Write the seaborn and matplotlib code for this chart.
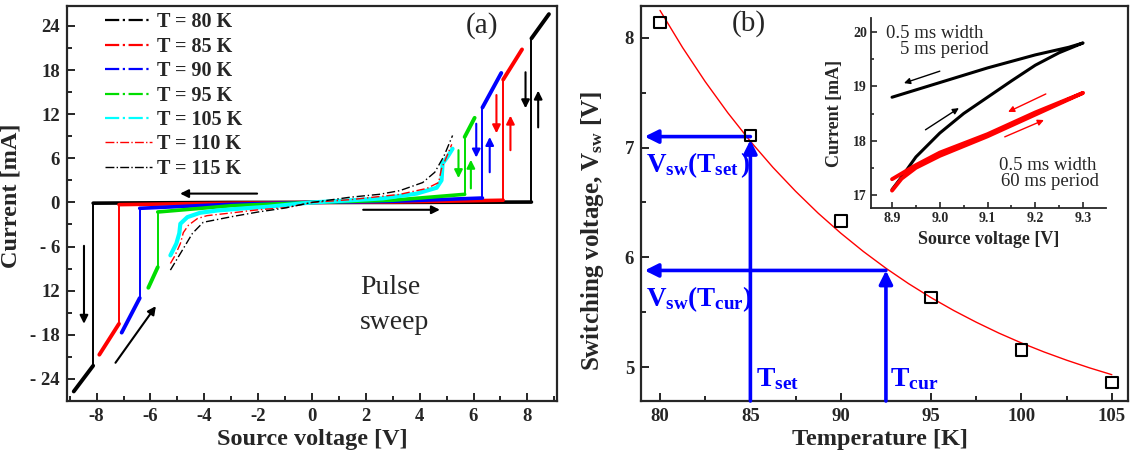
import numpy as np
import pandas as pd
import seaborn as sns
from matplotlib import pyplot as plt
from matplotlib.lines import Line2D
from matplotlib.ticker import MultipleLocator

sns.set_style('ticks')
plt.rcParams['font.family'] = ['Liberation Serif', 'DejaVu Serif']
plt.rcParams['mathtext.fontset'] = 'custom'
plt.rcParams['mathtext.rm'] = 'Liberation Serif'
plt.rcParams['mathtext.it'] = 'Liberation Serif:italic'
plt.rcParams['mathtext.bf'] = 'Liberation Serif:bold'

#####----- panel (a): pulse sweep I-V -----#####
temps_sw = ['T = 80 K', 'T = 85 K', 'T = 90 K', 'T = 95 K']
colors_sw = ['#000000', '#ff0000', '#0000ff', '#00dd00']
v_sw_pos = [8.15, 7.10, 6.33, 5.67]
i_low_pos = [0.05, 0.3, 0.6, 1.1]
i_top_pos = [22.3, 16.7, 12.9, 8.9]
v_end_pos = [8.8, 7.8, 7.03, 6.04]
i_end_pos = [25.6, 20.8, 17.6, 11.5]
v_sw_neg = [-8.13, -7.17, -6.4, -5.73]
i_low_neg = [-0.1, -0.3, -0.8, -1.3]
i_top_neg = [-22.2, -16.5, -13.0, -8.8]
v_end_neg = [-8.85, -7.9, -7.07, -6.08]
i_end_neg = [-25.7, -20.7, -17.7, -11.6]
i_at_m3 = [0.0, -0.1, -0.25, -0.45]
i_at_p3 = [0.0, 0.05, 0.15, 0.3]

v_105 = [-5.26, -5.04, -4.93, -4.89, -4.63, -4.15, -3.52, -2.5, -1.67, 0, 1.5, 2.63, 3.89, 4.63, 4.81, 4.85, 5.05, 5.22]
i_105 = [-7.2, -5.6, -4.2, -2.9, -2.0, -1.4, -1.1, -0.8, -0.6, 0, 0.3, 0.55, 1.2, 2.0, 3.0, 5.3, 6.3, 7.3]
v_110 = [-5.26, -5.1, -4.89, -4.78, -4.59, -4.26, -3.9, -2.93, -2.0, -0.93, 0, 1.5, 3.26, 4.26, 4.7, 4.81, 5.0, 5.19]
i_110 = [-8.3, -7.3, -5.6, -4.1, -3.1, -2.2, -1.8, -1.4, -1.0, -0.7, 0, 0.4, 1.1, 1.9, 2.7, 4.6, 6.2, 7.9]
v_115 = [-5.26, -4.85, -4.44, -4.04, -2.93, -2.0, -1.07, 0, 1.4, 2.5, 3.26, 4.11, 4.56, 4.9, 5.22]
i_115 = [-9.2, -6.7, -4.2, -2.7, -1.9, -1.3, -0.8, 0, 0.7, 1.1, 1.6, 2.7, 4.1, 6.3, 9.1]

#####----- panel (b): switching voltage vs temperature -----#####
temp_pts = [80, 85, 90, 95, 100, 105]
vsw_pts = [8.14, 7.11, 6.33, 5.635, 5.155, 4.86]
temp_fit = [80, 81.25, 82.5, 83.75, 85, 86.25, 87.5, 88.75, 90, 91.25, 92.5,
            93.75, 95, 96.25, 97.5, 98.75, 100, 101.25, 102.5, 103.75, 105]
vsw_fit = [8.25, 7.911, 7.601, 7.317, 7.057, 6.819, 6.602, 6.402, 6.22, 6.053, 5.9,
           5.76, 5.632, 5.515, 5.408, 5.309, 5.219, 5.137, 5.062, 4.993, 4.93]
t_set, v_set = 85, 7.1
t_cur, v_cur = 92.5, 5.88

#####----- inset -----#####
v_5ms_up = [8.90, 8.92, 8.95, 9.0, 9.05, 9.1, 9.15, 9.2, 9.25, 9.3]
i_5ms_up = [17.1, 17.33, 17.7, 18.14, 18.5, 18.8, 19.1, 19.39, 19.62, 19.8]
v_5ms_dn = [9.3, 9.27, 9.2, 9.1, 9.0, 8.9]
i_5ms_dn = [19.8, 19.72, 19.58, 19.34, 19.07, 18.8]
v_60ms_up = [8.9, 8.92, 8.95, 9.0, 9.1, 9.2, 9.3]
i_60ms_up = [17.08, 17.3, 17.5, 17.72, 18.08, 18.48, 18.88]
v_60ms_dn = [9.3, 9.2, 9.1, 9.0, 8.95, 8.9]
i_60ms_dn = [18.88, 18.52, 18.12, 17.78, 17.55, 17.29]

fig = plt.figure(figsize=(11.34, 4.57), dpi=100)
ax1 = fig.add_axes([0.0591, 0.1225, 0.4321, 0.8643])
ax2 = fig.add_axes([0.5653, 0.1225, 0.4295, 0.8643])
ax3 = fig.add_axes([0.7681, 0.5449, 0.2072, 0.4158])

tick_font = dict(fontsize=13.5, fontweight='bold')
label_font = dict(fontsize=17.5, fontweight='bold')


def arrow(ax, x0, y0, x1, y1, color, lw=1.5, ms=12):
    ax.annotate('', xy=(x1, y1), xytext=(x0, y0),
                arrowprops=dict(arrowstyle='-|>', color=color, lw=lw,
                                mutation_scale=ms, shrinkA=0, shrinkB=0))


# --- panel (a)
for k in range(4):
    c = colors_sw[k]
    low = pd.DataFrame({'v': [v_sw_neg[k], -3, 0, 3, v_sw_pos[k]],
                        'i': [i_low_neg[k], i_at_m3[k], 0, i_at_p3[k], i_low_pos[k]]})
    sns.lineplot(data=low, x='v', y='i', ax=ax1, color=c, lw=2.6, sort=False, estimator=None)
    for vs, il, it, ve, ie in [(v_sw_pos[k], i_low_pos[k], i_top_pos[k], v_end_pos[k], i_end_pos[k]),
                               (v_sw_neg[k], i_low_neg[k], i_top_neg[k], v_end_neg[k], i_end_neg[k])]:
        sns.lineplot(x=[vs, vs], y=[il, it], ax=ax1, color=c, lw=1.4, sort=False, estimator=None)
        sns.lineplot(x=[vs, ve], y=[it, ie], ax=ax1, color=c, lw=2.8, sort=False, estimator=None)

sns.lineplot(x=v_105, y=i_105, ax=ax1, color='#00ffff', lw=3.0, sort=False, estimator=None)
l110 = sns.lineplot(x=v_110, y=i_110, ax=ax1, color='#ff0000', lw=1.0, sort=False, estimator=None).lines[-1]
l110.set_dashes([6, 2, 1, 2])
l115 = sns.lineplot(x=v_115, y=i_115, ax=ax1, color='#000000', lw=1.0, sort=False, estimator=None).lines[-1]
l115.set_dashes([6, 2, 1, 2])

# sweep direction arrows
arrow(ax1, -2.04, 1.2, -4.9, 1.2, 'k')
arrow(ax1, 1.9, -1.0, 4.75, -1.0, 'k')
arrow(ax1, -8.47, -5.9, -8.47, -16.5, 'k')
arrow(ax1, -7.3, -21.8, -5.8, -14.1, 'k')
arrow(ax1, 7.93, 17.7, 7.93, 12.8, 'k')
arrow(ax1, 8.4, 10.2, 8.4, 15.2, 'k')
arrow(ax1, 6.85, 14.6, 6.85, 9.4, '#ff0000')
arrow(ax1, 7.37, 7.1, 7.37, 11.8, '#ff0000')
arrow(ax1, 6.1, 10.7, 6.1, 6.1, '#0000ff')
arrow(ax1, 6.6, 4.1, 6.6, 8.9, '#0000ff')
arrow(ax1, 5.44, 7.1, 5.44, 3.3, '#00dd00')
arrow(ax1, 5.9, 1.9, 5.9, 5.8, '#00dd00')

leg_handles = [
    Line2D([], [], color='#000000', lw=1.6, ls='-.'),
    Line2D([], [], color='#ff0000', lw=1.6, ls='-.'),
    Line2D([], [], color='#0000ff', lw=1.6, ls='-.'),
    Line2D([], [], color='#00dd00', lw=1.6, ls='-.'),
    Line2D([], [], color='#00ffff', lw=1.6, ls='-.'),
    Line2D([], [], color='#ff0000', lw=1.0, ls='-.'),
    Line2D([], [], color='#000000', lw=1.0, ls='-.'),
]
leg_labels = temps_sw + ['T = 105 K', 'T = 110 K', 'T = 115 K']
ax1.legend(leg_handles, leg_labels, loc='upper left', bbox_to_anchor=(0.045, 1.025),
           frameon=False, handlelength=2.3, handletextpad=0.25, labelspacing=0.22,
           borderpad=0.3, prop=dict(family='Liberation Serif', weight='bold', size=14.5))

ax1.text(6.33, 24.0, '(a)', fontsize=21, ha='center', va='center')
ax1.text(1.78, -11.6, 'Pulse', fontsize=20, ha='left', va='center')
ax1.text(1.78, -16.3, 'sweep', fontsize=20, ha='left', va='center')

ax1.set_xlim(-9.1, 9.1)
ax1.set_ylim(-27.0, 26.7)
ax1.set_xticks([-8, -6, -4, -2, 0, 2, 4, 6, 8])
ax1.set_xticklabels(['-8', '-6', '-4', '-2', '0', '2', '4', '6', '8'], **tick_font)
ax1.set_yticks([24, 18, 12, 6, 0, -6, -12, -18, -24])
ax1.set_yticklabels(['24', '18', '12', '6', '0', '- 6', '12', '- 18', '- 24'], **tick_font)
ax1.xaxis.set_minor_locator(MultipleLocator(1))
ax1.yaxis.set_minor_locator(MultipleLocator(3))
ax1.set_xlabel('Source voltage [V]', **label_font)
ax1.set_ylabel('Current [mA]', **label_font)
ax1.xaxis.set_label_coords(0.5, -0.072)
ax1.yaxis.set_label_coords(-0.092, 0.52)

# --- panel (b)
sns.lineplot(x=temp_fit, y=vsw_fit, ax=ax2, color='#ff0000', lw=1.0, sort=False, estimator=None)
sns.scatterplot(x=temp_pts, y=vsw_pts, ax=ax2, marker='s', s=70, facecolor='none',
                edgecolor='k', linewidth=1.5, zorder=5)

ylo = 4.69
blue = '#0000ff'
arrow(ax2, t_set, v_set, 79.15, v_set, blue, lw=2.6, ms=20)
arrow(ax2, t_set, ylo, t_set, v_set - 0.03, blue, lw=2.6, ms=20)
arrow(ax2, t_cur, v_cur, 79.15, v_cur, blue, lw=2.6, ms=20)
arrow(ax2, t_cur, ylo, t_cur, v_cur, blue, lw=2.6, ms=20)

ax2.text(79.25, 6.84, r'$\mathbf{V_{sw}(T_{set}\,)}$', color=blue, fontsize=19.5, ha='left', va='center')
ax2.text(79.25, 5.62, r'$\mathbf{V_{sw}(T_{cur})}$', color=blue, fontsize=19.5, ha='left', va='center')
ax2.text(85.3, 4.89, r'$\mathbf{T_{set}}$', color=blue, fontsize=20, ha='left', va='center')
ax2.text(92.7, 4.89, r'$\mathbf{T_{cur}}$', color=blue, fontsize=20, ha='left', va='center')
ax2.text(84.9, 8.13, '(b)', fontsize=21, ha='center', va='center')

ax2.set_xlim(78.95, 105.9)
ax2.set_ylim(ylo, 8.29)
ax2.set_xticks([80, 85, 90, 95, 100, 105])
ax2.set_xticklabels(['80', '85', '90', '95', '100', '105'], **tick_font)
ax2.set_yticks([5, 6, 7, 8])
ax2.set_yticklabels(['5', '6', '7', '8'], **tick_font)
ax2.xaxis.set_minor_locator(MultipleLocator(2.5))
ax2.yaxis.set_minor_locator(MultipleLocator(0.5))
ax2.set_xlabel('Temperature [K]', **label_font)
ax2.set_ylabel(r'Switching voltage, $\mathbf{V_{sw}}$ [V]', fontsize=18, fontweight='bold')
ax2.xaxis.set_label_coords(0.49, -0.072)
ax2.yaxis.set_label_coords(-0.072, 0.43)

# --- inset
sns.lineplot(x=v_5ms_up + v_5ms_dn, y=i_5ms_up + i_5ms_dn, ax=ax3, color='k', lw=2.2,
             sort=False, estimator=None)
sns.lineplot(x=v_60ms_up + v_60ms_dn, y=i_60ms_up + i_60ms_dn, ax=ax3, color='#ff0000', lw=2.8,
             sort=False, estimator=None)
arrow(ax3, 9.0, 19.28, 8.925, 19.06, 'k', lw=1.0, ms=9)
arrow(ax3, 8.97, 18.2, 9.04, 18.6, 'k', lw=1.0, ms=9)
arrow(ax3, 9.222, 18.86, 9.143, 18.53, '#ff0000', lw=1.0, ms=9)
arrow(ax3, 9.136, 18.07, 9.218, 18.38, '#ff0000', lw=1.0, ms=9)
ax3.text(8.887, 19.98, '0.5 ms width', fontsize=13.5, ha='left', va='center')
ax3.text(8.917, 19.68, '5 ms period', fontsize=13.5, ha='left', va='center')
ax3.text(9.125, 17.54, '0.5 ms width', fontsize=13.5, ha='left', va='center')
ax3.text(9.129, 17.24, '60 ms period', fontsize=13.5, ha='left', va='center')

ax3.set_xlim(8.856, 9.348)
ax3.set_ylim(16.76, 20.26)
ax3.set_xticks([8.9, 9.0, 9.1, 9.2, 9.3])
ax3.set_xticklabels(['8.9', '9.0', '9.1', '9.2', '9.3'], fontsize=10, fontweight='bold')
ax3.set_yticks([17, 18, 19, 20])
ax3.set_yticklabels(['17', '18', '19', '20'], fontsize=10, fontweight='bold')
ax3.xaxis.set_minor_locator(MultipleLocator(0.05))
ax3.yaxis.set_minor_locator(MultipleLocator(0.5))
ax3.set_xlabel('Source voltage [V]', fontsize=13, fontweight='bold')
ax3.set_ylabel('Current [mA]', fontsize=13, fontweight='bold')
ax3.xaxis.set_label_coords(0.5, -0.12)
ax3.yaxis.set_label_coords(-0.12, 0.5)
ax3.patch.set_alpha(0)
for s in ['top', 'right']:
    ax3.spines[s].set_visible(False)
for s in ['left', 'bottom']:
    ax3.spines[s].set_linewidth(1.3)
ax3.tick_params(which='both', direction='in', width=1.2, pad=3)
ax3.tick_params(which='major', length=4)
ax3.tick_params(which='minor', length=2.5)

for ax in [ax1, ax2]:
    for s in ax.spines.values():
        s.set_linewidth(1.6)
    ax.tick_params(which='both', direction='in', width=1.4, pad=5)
    ax.tick_params(which='major', length=6)
    ax.tick_params(which='minor', length=3.5)

fig.savefig('out.png', dpi=100)
